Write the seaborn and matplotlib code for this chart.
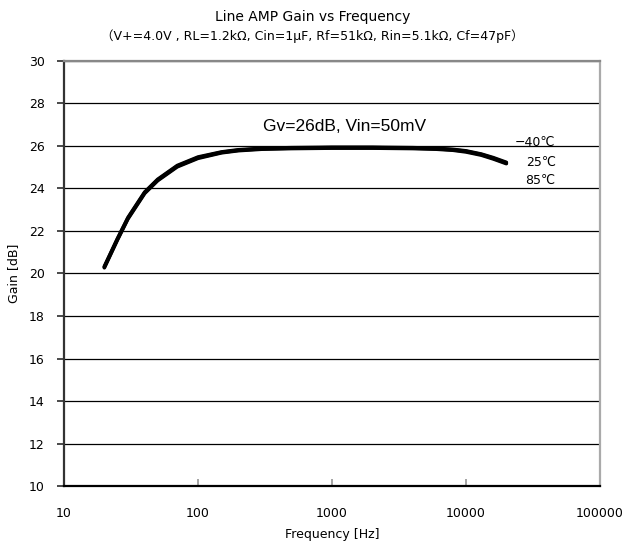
import matplotlib
matplotlib.use("Agg")
import matplotlib.pyplot as plt
import seaborn as sns
import pandas as pd
from matplotlib.ticker import FixedLocator, NullLocator, FixedFormatter

sns.set_theme(style="white")
plt.rcParams['font.family'] = ['DejaVu Sans', 'Noto Sans CJK JP']
plt.rcParams['text.color'] = 'black'
plt.rcParams['axes.labelcolor'] = 'black'

# Measured gain curves (Hz, dB) for three ambient temperatures
freq_hz = [20, 25, 30, 40, 50, 70, 100, 150, 200, 300, 500, 1000, 2000, 4000, 6000, 8000, 10000, 13000, 16000, 20000]
gain_m40 = [20.33, 21.63, 22.63, 23.83, 24.43, 25.08, 25.48, 25.72, 25.82, 25.89, 25.92, 25.94, 25.94, 25.92, 25.89, 25.84, 25.77, 25.62, 25.45, 25.23]
gain_25 = [20.30, 21.60, 22.60, 23.80, 24.40, 25.05, 25.45, 25.70, 25.80, 25.87, 25.90, 25.92, 25.92, 25.90, 25.87, 25.82, 25.75, 25.60, 25.42, 25.20]
gain_85 = [20.27, 21.57, 22.57, 23.77, 24.37, 25.02, 25.42, 25.68, 25.78, 25.85, 25.88, 25.90, 25.90, 25.88, 25.85, 25.80, 25.72, 25.57, 25.39, 25.17]
temp_labels = ["−40℃", "25℃", "85℃"]

x_ticks = [10, 100, 1000, 10000, 100000]
x_tick_labels = ["10", "100", "1000", "10000", "100000"]
y_ticks = list(range(10, 31, 2))

n = len(freq_hz)
df = pd.DataFrame({
    "Frequency": freq_hz * 3,
    "Gain": gain_m40 + gain_25 + gain_85,
    "Temp": [temp_labels[0]] * n + [temp_labels[1]] * n + [temp_labels[2]] * n,
})

fig = plt.figure(figsize=(6.25, 5.44), dpi=100)
ax = fig.add_axes([0.1024, 0.1066, 0.8576, 0.7813])

sns.lineplot(data=df, x="Frequency", y="Gain", hue="Temp",
             palette=["black", "black", "black"], linewidth=2.6,
             legend=False, ax=ax, estimator=None, sort=False)
for line in ax.get_lines():
    line.set_solid_capstyle("round")
    line.set_solid_joinstyle("round")

ax.set_xscale("log")
ax.set_xlim(10, 100000)
ax.set_ylim(10, 30)
ax.xaxis.set_major_locator(FixedLocator(x_ticks))
ax.xaxis.set_major_formatter(FixedFormatter(x_tick_labels))
ax.xaxis.set_minor_locator(NullLocator())
ax.set_yticks(y_ticks)
ax.yaxis.grid(True, color="black", linewidth=0.9)
ax.xaxis.grid(False)

ax.tick_params(axis="x", direction="in", length=5, color="#999999", labelsize=9, pad=15, labelcolor="black")
ax.tick_params(axis="y", direction="out", length=5, color="#333333", labelsize=9, pad=9, labelcolor="black")
ax.tick_params(axis="x", which="both", bottom=True)
ax.tick_params(axis="y", which="both", left=True)

ax.spines["left"].set_color("#333333")
ax.spines["left"].set_linewidth(1.6)
ax.spines["bottom"].set_color("black")
ax.spines["bottom"].set_linewidth(1.6)
ax.spines["top"].set_color("#888888")
ax.spines["top"].set_linewidth(1.6)
ax.spines["right"].set_color("#aaaaaa")
ax.spines["right"].set_linewidth(1.6)

ax.set_xlabel("Frequency [Hz]", fontsize=9, labelpad=6)
ax.set_ylabel("Gain [dB]", fontsize=9, labelpad=6)

fig.text(0.5, 1 - 17 / 544, "Line AMP Gain vs Frequency", ha="center", va="center", fontsize=10)
fig.text(0.5, 1 - 36 / 544, "（V+=4.0V , RL=1.2kΩ, Cin=1μF, Rf=51kΩ, Rin=5.1kΩ, Cf=47pF）",
         ha="center", va="center", fontsize=9)

ax.text(0.524, 0.847, "Gv=26dB, Vin=50mV", transform=ax.transAxes,
        ha="center", va="center", fontsize=12.5, family=["Liberation Sans", "DejaVu Sans"])
for label, yfrac in zip(temp_labels, [0.809, 0.762, 0.718]):
    ax.text(0.917, yfrac, label, transform=ax.transAxes, ha="right", va="center", fontsize=9)

fig.savefig("out.png", dpi=100)
